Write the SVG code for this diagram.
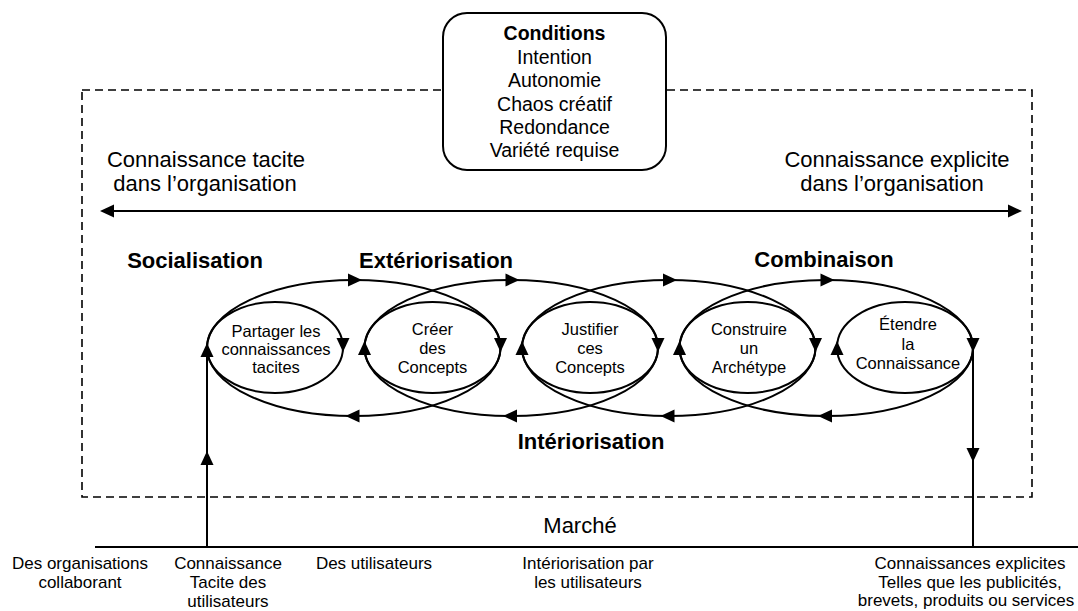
<svg xmlns="http://www.w3.org/2000/svg" xmlns:xlink="http://www.w3.org/1999/xlink" width="1078" height="611" viewBox="0 0 1078 611">
<style>
text{font-family:"Liberation Sans",Arial,sans-serif;fill:#000;text-anchor:middle}
.big{font-size:22px}
.bold{font-size:22px;font-weight:bold}
.cond{font-size:19.5px}
.in{font-size:16.5px}
.bot{font-size:17px}
.ln{fill:none;stroke:#000;stroke-width:2}
.dash{fill:none;stroke:#000;stroke-width:1.6;stroke-dasharray:8 5}
</style>
<defs>
<path id="ah" d="M0,0 L-14,-6.5 L-14,6.5 Z" fill="#000"/>
</defs>
<rect width="1078" height="611" fill="#fff"/>
<rect class="dash" x="82" y="90" width="950" height="407"/>
<g id="conditions">
<rect x="443" y="13" width="223" height="157" rx="24" ry="24" fill="#fff" stroke="#000" stroke-width="2"/>
<text class="cond" x="554.5" y="40" font-weight="bold">Conditions</text>
<text class="cond" x="554.5" y="63.5">Intention</text>
<text class="cond" x="554.5" y="87">Autonomie</text>
<text class="cond" x="554.5" y="110.5">Chaos créatif</text>
<text class="cond" x="554.5" y="134">Redondance</text>
<text class="cond" x="554.5" y="157">Variété requise</text>
</g>
<g id="tacit-label">
<text class="big" x="206" y="167">Connaissance tacite</text>
<text class="big" x="205" y="191">dans l’organisation</text>
</g>
<g id="explicit-label">
<text class="big" x="897" y="167">Connaissance explicite</text>
<text class="big" x="892" y="191">dans l’organisation</text>
</g>
<g id="mode-labels">
<text class="bold" x="195" y="268">Socialisation</text>
<text class="bold" x="436" y="268">Extériorisation</text>
<text class="bold" x="824" y="267">Combinaison</text>
<text class="bold" x="591" y="449">Intériorisation</text>
</g>
<g id="n1"><ellipse class="ln" cx="275" cy="347.5" rx="68" ry="45.5"/>
<text class="in" x="276" y="337">Partager les</text><text class="in" x="276" y="355">connaissances</text><text class="in" x="276" y="373">tacites</text></g>
<g id="n2"><ellipse class="ln" cx="432.5" cy="347.5" rx="68" ry="45.5"/>
<text class="in" x="432.5" y="335">Créer</text><text class="in" x="432.5" y="354">des</text><text class="in" x="432.5" y="373">Concepts</text></g>
<g id="n3"><ellipse class="ln" cx="590" cy="347.5" rx="68" ry="45.5"/>
<text class="in" x="590" y="335">Justifier</text><text class="in" x="590" y="354">ces</text><text class="in" x="590" y="373">Concepts</text></g>
<g id="n4"><ellipse class="ln" cx="747.5" cy="347.5" rx="68" ry="45.5"/>
<text class="in" x="749" y="335">Construire</text><text class="in" x="749" y="354">un</text><text class="in" x="749" y="373">Archétype</text></g>
<g id="n5"><ellipse class="ln" cx="905" cy="347.5" rx="68" ry="45.5"/>
<text class="in" x="908" y="330">Étendre</text><text class="in" x="908" y="350">la</text><text class="in" x="908" y="369">Connaissance</text></g>
<g id="market">
<text class="big" x="580" y="533">Marché</text>
<text class="bot" x="80" y="569">Des organisations</text><text class="bot" x="80" y="588">collaborant</text>
<text class="bot" x="228" y="569">Connaissance</text><text class="bot" x="228" y="588">Tacite des</text><text class="bot" x="228" y="607">utilisateurs</text>
<text class="bot" x="374" y="569">Des utilisateurs</text>
<text class="bot" x="588" y="569">Intériorisation par</text><text class="bot" x="588" y="588">les utilisateurs</text>
<text class="bot" x="970" y="569">Connaissances explicites</text><text class="bot" x="970" y="588">Telles que les publicités,</text><text class="bot" x="966" y="606">brevets, produits ou services</text>
</g>
<g id="connectors">
<line class="ln" x1="104" y1="211" x2="1018" y2="211"/>
<use xlink:href="#ah" transform="translate(100,211) rotate(180)"/>
<use xlink:href="#ah" transform="translate(1022,211)"/>
<ellipse class="ln" cx="353.75" cy="348" rx="146.75" ry="68"/>
<ellipse class="ln" cx="511.25" cy="348" rx="146.75" ry="68"/>
<ellipse class="ln" cx="668.75" cy="348" rx="146.75" ry="68"/>
<ellipse class="ln" cx="826.25" cy="348" rx="146.75" ry="68"/>
<use xlink:href="#ah" transform="translate(362,280)"/>
<use xlink:href="#ah" transform="translate(519.5,280)"/>
<use xlink:href="#ah" transform="translate(677,280)"/>
<use xlink:href="#ah" transform="translate(834.5,280)"/>
<use xlink:href="#ah" transform="translate(345.5,416) rotate(180)"/>
<use xlink:href="#ah" transform="translate(503,416) rotate(180)"/>
<use xlink:href="#ah" transform="translate(660.5,416) rotate(180)"/>
<use xlink:href="#ah" transform="translate(818,416) rotate(180)"/>
<use xlink:href="#ah" transform="translate(343,352) rotate(90)"/>
<use xlink:href="#ah" transform="translate(500.5,352) rotate(90)"/>
<use xlink:href="#ah" transform="translate(658,352) rotate(90)"/>
<use xlink:href="#ah" transform="translate(815.5,352) rotate(90)"/>
<use xlink:href="#ah" transform="translate(973,352) rotate(90)"/>
<use xlink:href="#ah" transform="translate(207,343) rotate(-90)"/>
<use xlink:href="#ah" transform="translate(364.5,341) rotate(-90)"/>
<use xlink:href="#ah" transform="translate(522,341) rotate(-90)"/>
<use xlink:href="#ah" transform="translate(679.5,341) rotate(-90)"/>
<use xlink:href="#ah" transform="translate(837,341) rotate(-90)"/>
<line class="ln" x1="207" y1="547" x2="207" y2="350"/>
<use xlink:href="#ah" transform="translate(207,451) rotate(-90)"/>
<line class="ln" x1="973" y1="350" x2="973" y2="547"/>
<use xlink:href="#ah" transform="translate(973,462) rotate(90)"/>
<line class="ln" x1="95" y1="547" x2="1078" y2="547"/>
</g>
</svg>
